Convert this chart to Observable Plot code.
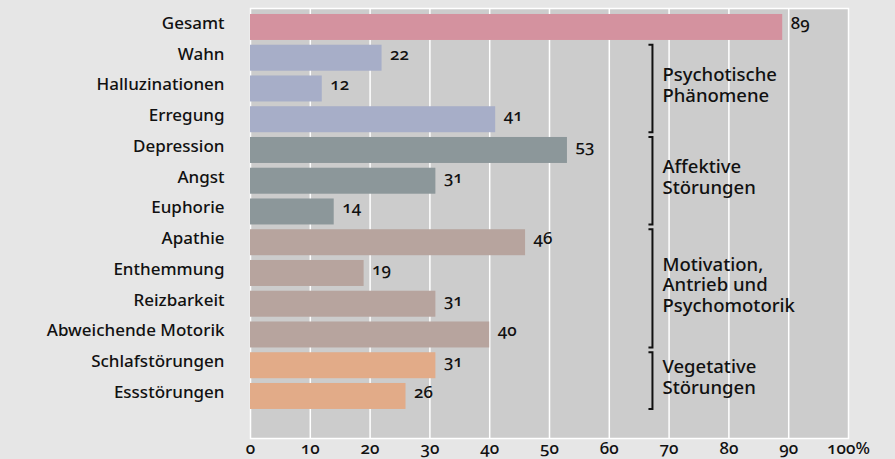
<!DOCTYPE html>
<html>
<head>
<meta charset="utf-8">
<script src="https://cdn.jsdelivr.net/npm/d3@7"></script>
<script src="https://cdn.jsdelivr.net/npm/@observablehq/plot@0.6"></script>
<style>
  html, body { margin: 0; padding: 0; background: #e6e6e6; }
  #chart svg { display: block; font-variant-numeric: oldstyle-nums; font-feature-settings: "onum" 1; }
</style>
</head>
<body>
<div id="chart"></div>
<script>
// Symptom categories (top to bottom) and their share in percent
const categories = [
  "Gesamt", "Wahn", "Halluzinationen", "Erregung", "Depression", "Angst", "Euphorie",
  "Apathie", "Enthemmung", "Reizbarkeit", "Abweichende Motorik", "Schlafstörungen", "Essstörungen"
];
const values = [89, 22, 12, 41, 53, 31, 14, 46, 19, 31, 40, 31, 26];

// Symptom group each category belongs to
const groupOf = [
  "Gesamt",
  "Psychotische Phänomene", "Psychotische Phänomene", "Psychotische Phänomene",
  "Affektive Störungen", "Affektive Störungen", "Affektive Störungen",
  "Motivation, Antrieb und Psychomotorik", "Motivation, Antrieb und Psychomotorik",
  "Motivation, Antrieb und Psychomotorik", "Motivation, Antrieb und Psychomotorik",
  "Vegetative Störungen", "Vegetative Störungen"
];
const groupNames = [
  "Gesamt", "Psychotische Phänomene", "Affektive Störungen",
  "Motivation, Antrieb und Psychomotorik", "Vegetative Störungen"
];
const groupColors = ["#d4929f", "#a7aec8", "#8c979a", "#b7a49e", "#e2ab88"];

// Bracketed group labels on the right
const groupLabelLines = [
  ["Psychotische", "Phänomene"],
  ["Affektive", "Störungen"],
  ["Motivation,", "Antrieb und", "Psychomotorik"],
  ["Vegetative", "Störungen"]
];
const groupFirst = ["Wahn", "Depression", "Apathie", "Schlafstörungen"];
const groupLast = ["Erregung", "Euphorie", "Abweichende Motorik", "Essstörungen"];

// Axis ticks
const xTicks = [0, 10, 20, 30, 40, 50, 60, 70, 80, 90, 100];

const data = categories.map((c, i) => ({category: c, value: values[i], group: groupOf[i]}));

const FONT = "'Noto Sans', sans-serif";
const INK = "#111111";
const SIZE = 17;
const GROUP_SIZE = 18.5;
const LINE = 20.7;
const bracketAt = 67.3; // horizontal position of the brackets, in percent

// Draws the "]" brackets and the multi-line group captions next to them
function groupBrackets(index, scales) {
  const {x, y} = scales;
  const bw = y.bandwidth ? y.bandwidth() : 0;
  const g = d3.create("svg:g")
    .attr("text-anchor", "start")
    .attr("font-family", FONT)
    .attr("font-size", GROUP_SIZE)
    .attr("font-weight", 500);
  const bx = x(bracketAt);
  groupLabelLines.forEach((lines, i) => {
    const y0 = y(groupFirst[i]);
    const y1 = y(groupLast[i]) + bw;
    g.append("path")
      .attr("d", `M${bx - 4},${y0}H${bx}V${y1}H${bx - 4}`)
      .attr("fill", "none")
      .attr("stroke", INK)
      .attr("stroke-width", 2);
    const mid = (y0 + y1) / 2;
    lines.forEach((s, j) => {
      g.append("text")
        .attr("x", bx + 10)
        .attr("y", mid + 3 + (j - (lines.length - 1) / 2) * LINE)
        .attr("fill", INK)
        .text(s);
    });
  });
  return g.node();
}

const chart = Plot.plot({
  width: 895,
  height: 459,
  marginLeft: 250,
  marginRight: 47,
  marginTop: 8,
  marginBottom: 21,
  style: {background: "#e6e6e6", fontFamily: FONT, fontSize: `${SIZE}px`, color: INK},
  x: {domain: [0, 100]},
  y: {
    domain: categories,
    range: [11.6, 411.35],
    paddingInner: 0.155,
    paddingOuter: 0.0775,
    align: 0.5,
    round: false
  },
  color: {domain: groupNames, range: groupColors},
  marks: [
    Plot.frame({fill: "#cccccc", stroke: "#ffffff", strokeWidth: 1.5}),
    Plot.ruleX(xTicks.slice(1, -1), {stroke: "#ffffff", strokeWidth: 1.5}),
    Plot.barX(data, {x: "value", y: "category", fill: "group"}),
    Plot.text(data, {
      x: "value", y: "category", text: (d) => String(d.value),
      textAnchor: "start", dx: 8, dy: -4,
      fill: INK, fontWeight: 500, fontSize: SIZE
    }),
    Plot.axisY({
      tickSize: 0, tickPadding: 26, dy: -4, label: null,
      fontWeight: 500, fontSize: SIZE, fill: INK
    }),
    Plot.axisX({
      ticks: xTicks, tickSize: 0, tickPadding: 3, label: null,
      tickFormat: (d) => (d === 100 ? "100%" : String(d)),
      fontWeight: 500, fontSize: SIZE, fill: INK
    }),
    groupBrackets
  ]
});

document.getElementById("chart").appendChild(chart);
</script>
</body>
</html>
